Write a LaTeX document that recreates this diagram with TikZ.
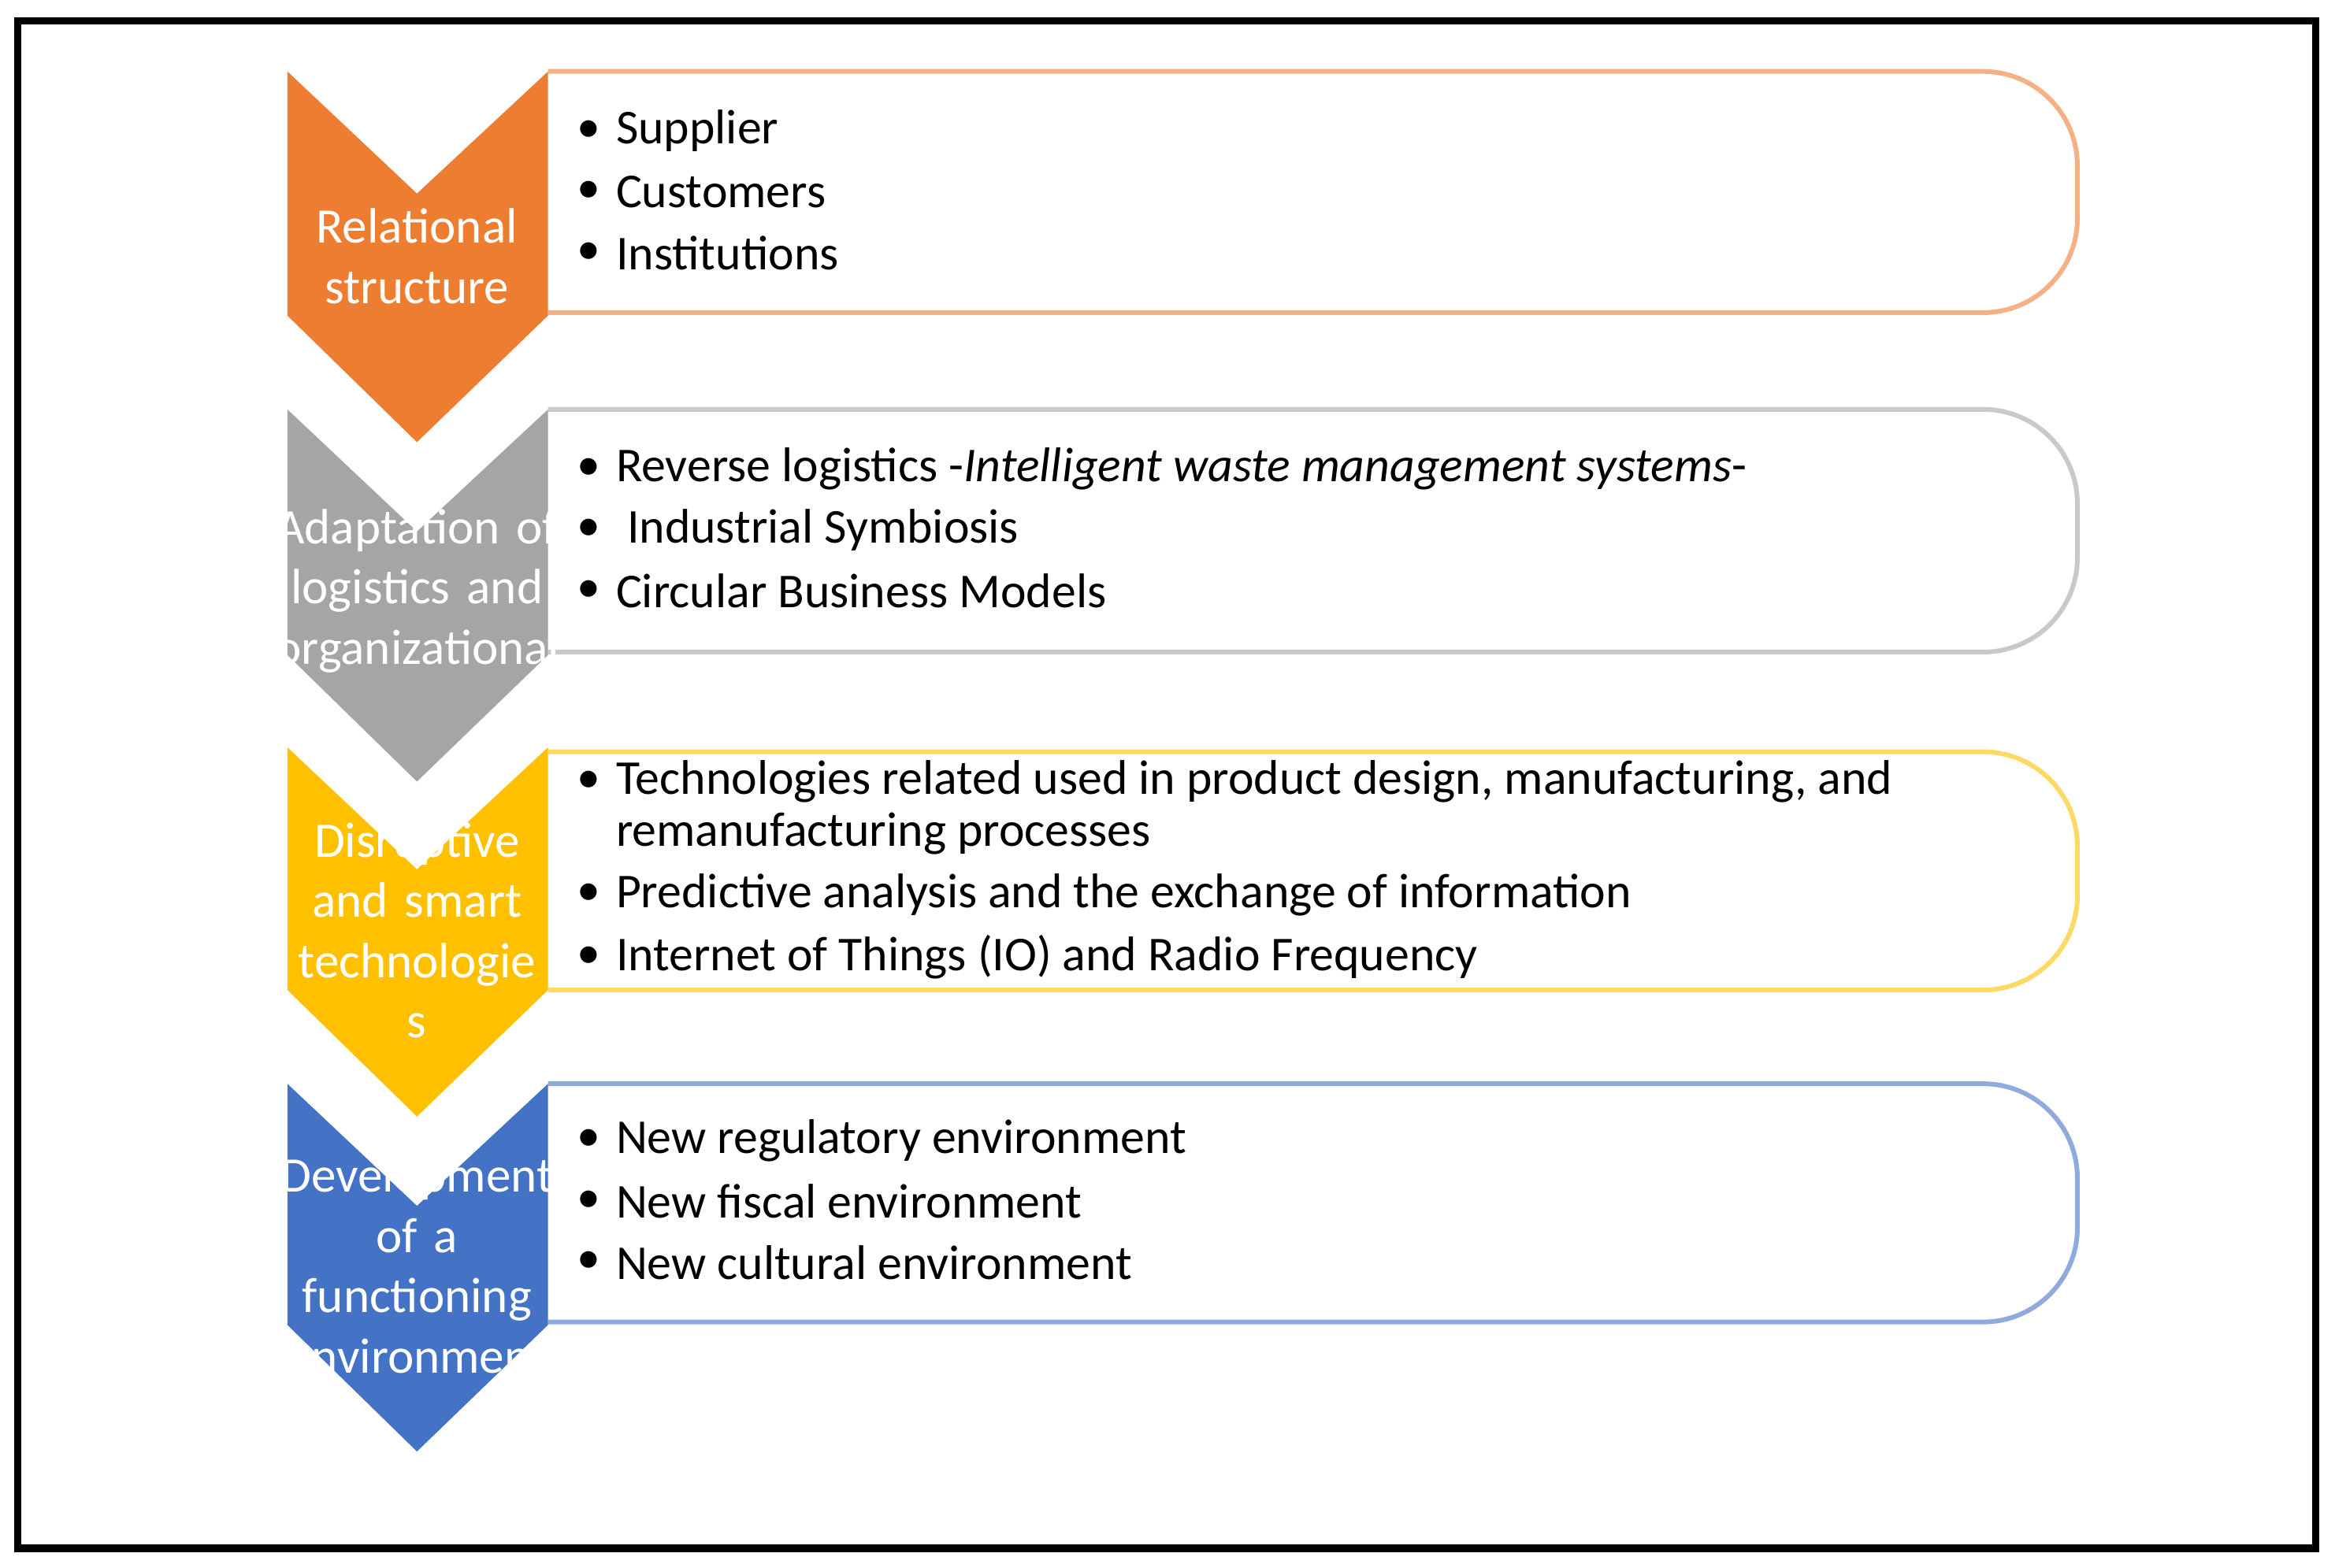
\documentclass[tikz,border=0pt]{standalone}
\usepackage{fontspec}
\setmainfont{Carlito}
\definecolor{chorange}{HTML}{ED7D31}\definecolor{chgray}{HTML}{A5A5A5}
\definecolor{chyellow}{HTML}{FFC000}\definecolor{chblue}{HTML}{4472C4}
\definecolor{lnorange}{HTML}{F4B183}\definecolor{lngray}{HTML}{C9C9C9}
\definecolor{lnyellow}{HTML}{FFD966}\definecolor{lnblue}{HTML}{8FAADC}
\begin{document}
\begin{tikzpicture}[x=0.1mm,y=-0.1mm,
 lbl/.style={text=white,font=\fontsize{9.5}{11.5}\selectfont,align=center,text width=19mm},
 itm/.style={anchor=west,font=\fontsize{9.3}{10.5}\selectfont,inner sep=0pt},
 dot/.style={anchor=west,font=\fontsize{9}{10.5}\selectfont,inner sep=0pt}]
\useasboundingbox (0,0) rectangle (1568,1053);
\draw[line width=1.4pt] (12,14) rectangle (1555,1040);
\def\chev#1#2#3{%
 \fill[#3] (193,#1) -- (280,#1+82) -- (368,#1) -- (368,#2) -- (280,#2+85) -- (193,#2) -- cycle;}
\def\bx#1#2#3{\draw[#3,line width=0.9pt,rounded corners=18] (368,#1) -- (1395,#1) -- (1395,#2) -- (368,#2);}
\bx{48}{210}{lnorange}\bx{275}{438}{lngray}\bx{505}{665}{lnyellow}\bx{728}{888}{lnblue}
\chev{48}{212}{chorange}
\node[lbl] (l1) at (280,172) {Relational\\structure};
\chev{275}{440}{chgray}
\node[lbl] (l2) at (280,397) {Adaptation of\\logistics and\\organizational};
\chev{502}{665}{chyellow}
\node[lbl] (l3) at (280,625) {Disruptive\\and smart\\technologie\\s};
\chev{728}{890}{chblue}
\node[lbl] (l4) at (280,850) {Development\\of a\\functioning\\environment};
\foreach \y/\t [count=\i] in {88/Supplier,129/Customers,170/Institutions,
 315/{Reverse logistics -\textit{Intelligent waste management systems}-},
 356/{\ Industrial Symbiosis},397/{Circular Business Models},
 525/{Technologies related used in product design, manufacturing, and},
 601/{Predictive analysis and the exchange of information},
 643/{Internet of Things (IO) and Radio Frequency},
 766/{New regulatory environment},807/{New fiscal environment},848/{New cultural environment}}
 {\node[dot] (b\i) at (387,\y) {•}; \node[itm] (t\i) at (413,\y) {\t};}
\node[itm] (t7b) at (413,560) {remanufacturing processes};
\end{tikzpicture}
\end{document}
